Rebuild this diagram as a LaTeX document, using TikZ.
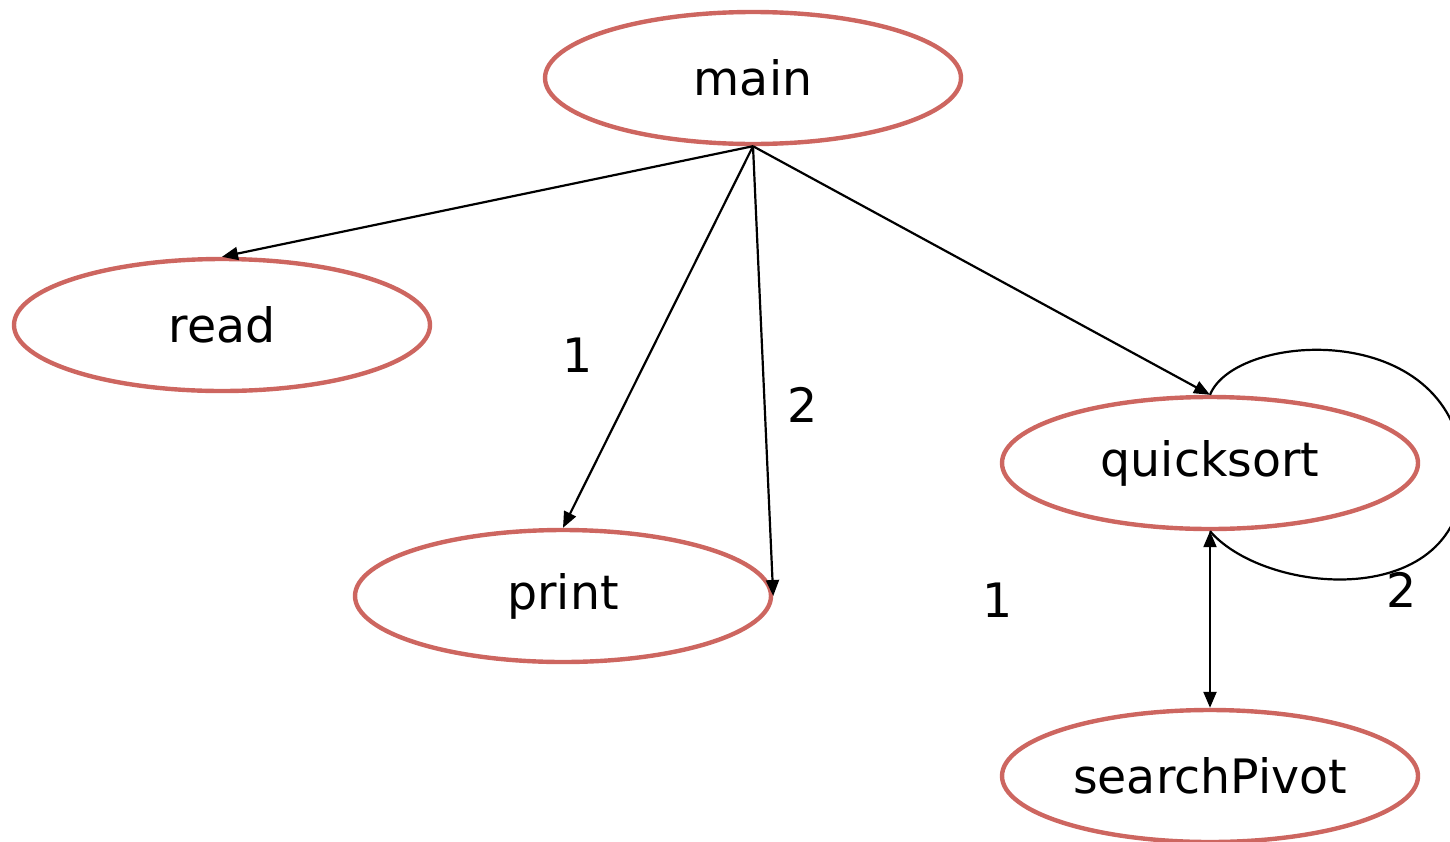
\documentclass[tikz,border=0pt]{standalone}
\usepackage{fontspec}
\setmainfont{DejaVu Sans}
\usetikzlibrary{shapes.geometric,arrows.meta}
\definecolor{nodered}{RGB}{205,102,96}
\begin{document}
\begin{tikzpicture}[x=0.5pt,y=-0.5pt,
  fn/.style={ellipse,draw=nodered,line width=2.2pt,minimum width=208pt,minimum height=66pt,inner sep=0pt,font=\fontsize{23.7}{28}\selectfont},
  lbl/.style={font=\fontsize{23.7}{28}\selectfont,inner sep=0pt},
  call/.style={line width=1.1pt,-{Triangle[length=8pt,width=6.5pt]}},
  both/.style={line width=1.1pt,{Triangle[length=8pt,width=6.5pt]}-{Triangle[length=8pt,width=6.5pt]}},
  loopline/.style={line width=1.1pt}]
\useasboundingbox (0,0) rectangle (1450,841);
\node[fn] (main) at (753,78) {main};
\node[fn] (read) at (222,325) {read};
\node[fn] (print) at (563,596) {print};
\node[fn] (quick) at (1210,463) {quicksort};
\node[fn] (pivot) at (1210,776) {searchPivot};
\node[lbl] (l1) at (578,355) {1};
\node[lbl] (l2) at (803,405) {2};
\node[lbl] (l3) at (998,600) {1};
\node[lbl] (l4) at (1402,590) {2};
\draw[call] (main.south) -- (read.north);
\draw[call] (main.south) -- (print.north);
\draw[call] (main.south) -- (print.east);
\draw[call] (main.south) -- (quick.north);
\draw[loopline] (quick.north) .. controls (1235,332) and (1450,318) .. (1463,465)
  .. controls (1472,612) and (1268,598) .. (quick.south);
\draw[both] (quick.south) -- (pivot.north);
\end{tikzpicture}
\end{document}
